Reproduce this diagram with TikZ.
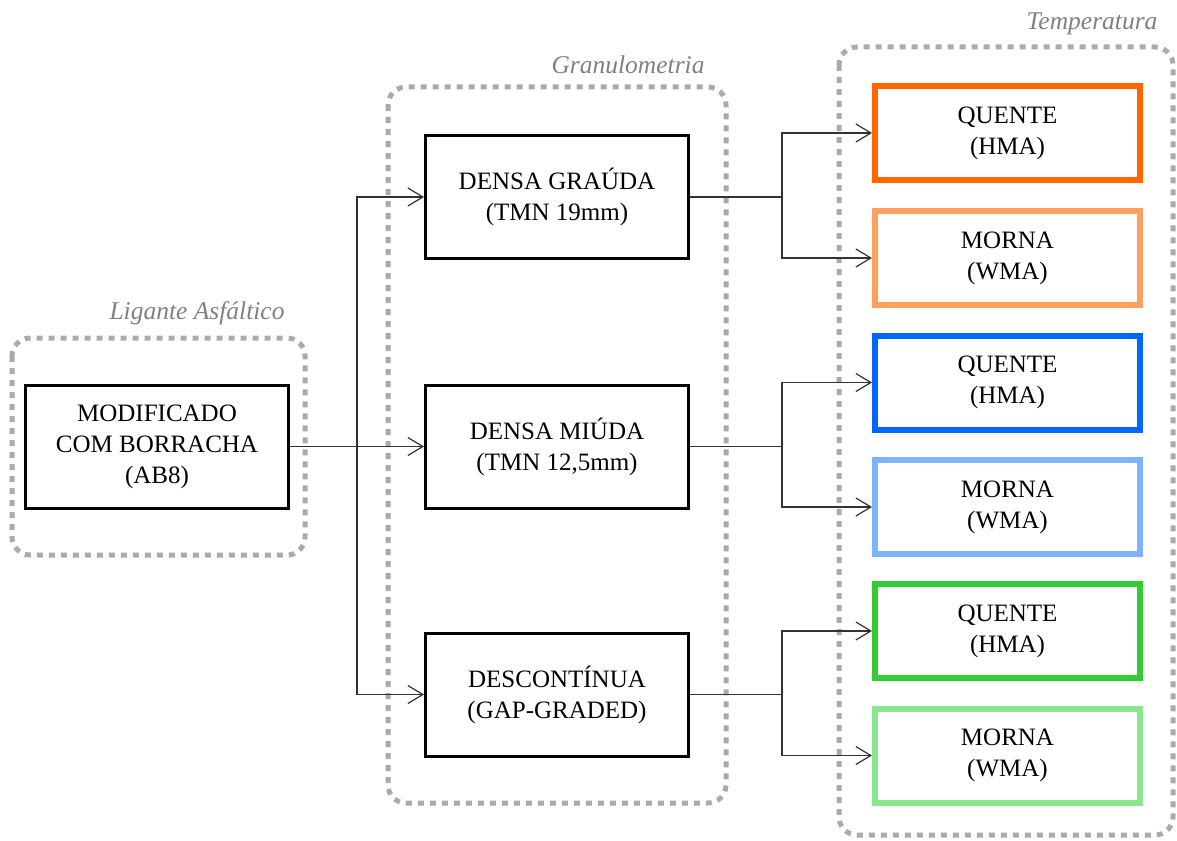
\documentclass[tikz,border=0pt]{standalone}
\usepackage{fontspec}
\setmainfont{Liberation Serif}
\usetikzlibrary{arrows.meta}
\definecolor{dotgray}{RGB}{170,170,170}
\definecolor{labgray}{RGB}{128,128,128}
\definecolor{cOrange}{RGB}{255,102,0}
\definecolor{cOrangeL}{RGB}{255,160,95}
\definecolor{cBlue}{RGB}{0,102,255}
\definecolor{cBlueL}{RGB}{128,179,255}
\definecolor{cGreen}{RGB}{51,204,51}
\definecolor{cGreenL}{RGB}{138,230,138}
\definecolor{lineC}{RGB}{50,50,50}
\tikzset{
  grp/.style={draw=dotgray, line width=5pt, dash pattern=on 6pt off 6pt, rounded corners=18pt},
  grplabel/.style={font=\fontsize{25.5}{30}\selectfont\itshape, text=labgray, inner sep=0pt},
  blackbox/.style={draw=black, line width=3pt, minimum width=263pt, minimum height=123pt, align=center, inner sep=0pt, font=\fontsize{25}{31}\selectfont, fill=white},
  tempbox/.style={line width=6pt, minimum width=265pt, minimum height=94pt, align=center, inner sep=0pt, font=\fontsize{25}{31}\selectfont, fill=white},
  conn/.style={draw=lineC, line width=1.2pt},
  arr/.style={conn, -{Straight Barb[length=15pt, width=18pt, line width=1.2pt]}}
}
\begin{document}
\begin{tikzpicture}[x=1pt, y=-1pt]
\useasboundingbox (0,0) rectangle (1177,840);
% group frames
\draw[grp] (12,338) rectangle (305,555);
\draw[grp] (388,87) rectangle (726,803);
\draw[grp] (839,47) rectangle (1173,835);
\node[grplabel] (lab1) at (197,313) {Ligante Asfáltico};
\node[grplabel] (lab2) at (628,65) {Granulometria};
\node[grplabel] (lab3) at (1092,24) {Temperatura};
% junction points
\coordinate (j1) at (357,446.5);
\coordinate (j2) at (782,197);
\coordinate (j3) at (782,446.5);
\coordinate (j4) at (782,694.5);
% nodes
\node[blackbox] (mod) at (157,446.5) {MODIFICADO\\COM BORRACHA\\(AB8)};
\node[blackbox] (g1) at (557,197) {DENSA GRAÚDA\\(TMN 19mm)};
\node[blackbox] (g2) at (557,446.5) {DENSA MIÚDA\\(TMN 12,5mm)};
\node[blackbox] (g3) at (557,694.5) {DESCONTÍNUA\\(GAP-GRADED)};
\node[tempbox, draw=cOrange] (t1) at (1007.5,133) {QUENTE\\(HMA)};
\node[tempbox, draw=cOrangeL] (t2) at (1007.5,258) {MORNA\\(WMA)};
\node[tempbox, draw=cBlue] (t3) at (1007.5,382.5) {QUENTE\\(HMA)};
\node[tempbox, draw=cBlueL] (t4) at (1007.5,507) {MORNA\\(WMA)};
\node[tempbox, draw=cGreen] (t5) at (1007.5,631) {QUENTE\\(HMA)};
\node[tempbox, draw=cGreenL] (t6) at (1007.5,755.5) {MORNA\\(WMA)};
% edges
\draw[conn] (mod.east) -- (j1);
\draw[arr] (j1) |- (g1.west);
\draw[arr] (j1) -- (g2.west);
\draw[arr] (j1) |- (g3.west);
\draw[conn] (g1.east) -- (j2);
\draw[arr] (j2) |- (t1.west);
\draw[arr] (j2) |- (t2.west);
\draw[conn] (g2.east) -- (j3);
\draw[arr] (j3) |- (t3.west);
\draw[arr] (j3) |- (t4.west);
\draw[conn] (g3.east) -- (j4);
\draw[arr] (j4) |- (t5.west);
\draw[arr] (j4) |- (t6.west);
\end{tikzpicture}
\end{document}
